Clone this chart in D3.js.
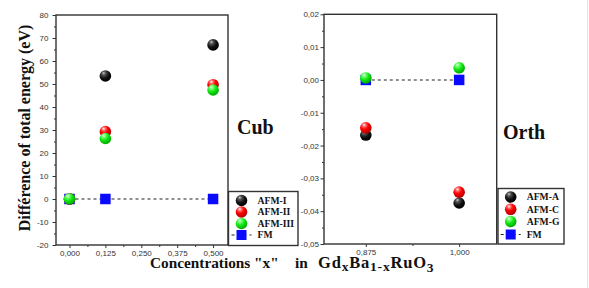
<!DOCTYPE html>
<html><head><meta charset="utf-8">
<script src="https://cdn.jsdelivr.net/npm/d3@7"></script>
<style>body{margin:0;background:#fff}svg{display:block}</style>
</head><body>
<svg id="c" width="589" height="288"></svg>
<script>
// ---- data ----
const cubX = [0, 0.125, 0.5];
const cubAFM1 = [0, 53.5, 67];
const cubAFM2 = [0, 29.3, 49.7];
const cubAFM3 = [0, 26.3, 47.4];
const cubFM = [0, 0, 0];
const cubNames = ["AFM-I", "AFM-II", "AFM-III", "FM"];
const cubXTicks = [0, 0.125, 0.25, 0.375, 0.5];
const cubYTicks = [-20, -10, 0, 10, 20, 30, 40, 50, 60, 70, 80];

const orthX = [0.875, 1.0];
const orthAFMA = [-0.0168, -0.0375];
const orthAFMC = [-0.0146, -0.0342];
const orthAFMG = [0.0006, 0.0037];
const orthFM = [0, 0];
const orthNames = ["AFM-A", "AFM-C", "AFM-G", "FM"];
const orthXTicks = [0.875, 1.0];
const orthYTicks = [-0.05, -0.04, -0.03, -0.02, -0.01, 0, 0.01, 0.02];

const svg = d3.select("#c");
const loc = d3.formatLocale({decimal: ",", thousands: ".", grouping: [3], currency: ["", ""], minus: "-"});

// gradients
const defs = svg.append("defs");
function grad(id, stops) {
  const g = defs.append("radialGradient").attr("id", id)
    .attr("cx", "38%").attr("cy", "30%").attr("r", "70%").attr("fx", "35%").attr("fy", "25%");
  stops.forEach(s => g.append("stop").attr("offset", s[0]).attr("stop-color", s[1]));
}
grad("gBlack", [["0%", "#d0d0d0"], ["22%", "#555"], ["60%", "#111"], ["100%", "#000"]]);
grad("gRed", [["0%", "#ffffff"], ["20%", "#ff7070"], ["50%", "#ff0000"], ["100%", "#b00000"]]);
grad("gGreen", [["0%", "#f0fff0"], ["22%", "#70ff70"], ["55%", "#11e611"], ["100%", "#00a800"]]);
const fills = ["url(#gBlack)", "url(#gRed)", "url(#gGreen)"];

const R = 5.8, SQ = 10.5;
const frameColor = "#333";

function panel(o) {
  const x = d3.scaleLinear().domain(o.xDomain).range([o.x0, o.x1]);
  const y = d3.scaleLinear().domain(o.yDomain).range([o.y1, o.y0]);
  const g = svg.append("g");

  // axes
  const yAx = g.append("g").attr("transform", `translate(${o.x0},0)`)
    .call(d3.axisLeft(y).tickValues(o.yTicks).tickSize(3.5).tickPadding(o.yPad).tickFormat(o.yFmt));
  const yMin = g.append("g").attr("transform", `translate(${o.x0},0)`)
    .call(d3.axisLeft(y).tickValues(o.yMinor).tickSize(2).tickFormat(""));
  const xAx = g.append("g").attr("transform", `translate(0,${o.y1})`)
    .call(d3.axisBottom(x).tickValues(o.xTicks).tickSize(3).tickPadding(2.6).tickFormat(o.xFmt));
  const xMin = g.append("g").attr("transform", `translate(0,${o.y1})`)
    .call(d3.axisBottom(x).tickValues(o.xMinor).tickSize(2).tickFormat(""));
  [yAx, yMin, xAx, xMin].forEach(a => {
    a.select(".domain").remove();
    a.selectAll("line").attr("stroke", frameColor).attr("stroke-width", 1);
    a.selectAll("text").attr("font-family", "'Liberation Sans', Arial, sans-serif")
      .attr("font-size", 8).attr("fill", "#333");
  });

  // frame
  g.append("rect").attr("x", o.x0).attr("y", o.y0).attr("width", o.x1 - o.x0).attr("height", o.y1 - o.y0)
    .attr("fill", "none").attr("stroke", frameColor).attr("stroke-width", 1.4);

  // FM dashed line + squares
  const line = d3.line().x(d => x(d[0])).y(d => y(d[1]));
  const fm = o.xs.map((v, i) => [v, o.fm[i]]);
  g.append("path").attr("d", line(fm)).attr("fill", "none").attr("stroke", "#222")
    .attr("stroke-width", 1.1).attr("stroke-dasharray", "3,3");
  g.selectAll(".sq").data(fm).join("rect")
    .attr("x", d => x(d[0]) - SQ / 2).attr("y", d => y(d[1]) - SQ / 2)
    .attr("width", SQ).attr("height", SQ).attr("fill", "#0a0aff");

  // spheres
  o.series.forEach((s, k) => {
    g.selectAll(".s" + k).data(o.xs.map((v, i) => [v, s[i]])).join("circle")
      .attr("cx", d => x(d[0])).attr("cy", d => y(d[1])).attr("r", R).attr("fill", fills[k]);
  });

  // legend
  const L = o.legend;
  g.append("rect").attr("x", L.x0).attr("y", L.y0).attr("width", L.x1 - L.x0).attr("height", L.y1 - L.y0)
    .attr("fill", "#fff").attr("stroke", frameColor).attr("stroke-width", 1.4);
  o.names.forEach((nm, i) => {
    const cy = L.rows[i];
    if (i < 3) {
      g.append("circle").attr("cx", L.mx).attr("cy", cy).attr("r", R).attr("fill", fills[i]);
    } else {
      g.append("line").attr("x1", L.mx - 10).attr("x2", L.mx + 10).attr("y1", cy).attr("y2", cy)
        .attr("stroke", "#222").attr("stroke-width", 1.1).attr("stroke-dasharray", "3,3");
      g.append("rect").attr("x", L.mx - 5).attr("y", cy - 5).attr("width", 10).attr("height", 10).attr("fill", "#0a0aff");
    }
    g.append("text").attr("x", L.tx).attr("y", cy + 3.4).text(nm)
      .attr("font-family", "'Liberation Serif', 'Times New Roman', serif").attr("font-weight", "bold")
      .attr("font-size", 9.7).attr("fill", "#111");
  });

  // panel label
  svg.append("text").attr("x", o.label.x).attr("y", o.label.y).text(o.label.t)
    .attr("font-family", "'Liberation Serif', 'Times New Roman', serif").attr("font-weight", "bold")
    .attr("font-size", 20).attr("fill", "#111");
}

panel({
  xDomain: [-0.047, 0.552], yDomain: [-20, 80],
  x0: 56, x1: 228, y0: 15, y1: 245,
  xTicks: cubXTicks, xMinor: [0.0625, 0.1875, 0.3125, 0.4375],
  yTicks: cubYTicks, yMinor: d3.range(-15, 80, 10),
  xFmt: loc.format(".3f"), yFmt: loc.format("d"), yPad: 4,
  xs: cubX, series: [cubAFM1, cubAFM2, cubAFM3], fm: cubFM, names: cubNames,
  legend: {x0: 228.5, x1: 298, y0: 191.5, y1: 245.5, mx: 241.5, tx: 257.5, rows: [200.5, 212, 223.5, 235]},
  label: {x: 237, y: 134, t: "Cub"}
});

panel({
  xDomain: [0.819, 1.0503], yDomain: [-0.05, 0.02],
  x0: 324, x1: 496.7, y0: 14.3, y1: 244,
  xTicks: orthXTicks, xMinor: [0.9375],
  yTicks: orthYTicks, yMinor: d3.range(-0.045, 0.02, 0.01),
  xFmt: loc.format(".3f"), yFmt: loc.format(".2f"), yPad: 1.5,
  xs: orthX, series: [orthAFMA, orthAFMC, orthAFMG], fm: orthFM, names: orthNames,
  legend: {x0: 498, x1: 564, y0: 188.5, y1: 244, mx: 510.7, tx: 526.7, rows: [197, 209.3, 221.5, 234.5]},
  label: {x: 503, y: 138.5, t: "Orth"}
});

// axis titles
const serif = "'Liberation Serif', 'Times New Roman', serif";
svg.append("text").attr("transform", "translate(30,128) rotate(-90)").attr("text-anchor", "middle")
  .text("Différence of total energy (eV)")
  .attr("font-family", serif).attr("font-weight", "bold").attr("font-size", 16).attr("fill", "#111");

const xt = svg.append("g").attr("font-family", serif).attr("font-weight", "bold").attr("fill", "#111");
xt.append("text").attr("x", 150).attr("y", 268).attr("font-size", 15.3).text('Concentrations "x"');
xt.append("text").attr("x", 295).attr("y", 268).attr("font-size", 15.3).text("in");
const f = xt.append("text").attr("x", 318).attr("y", 268).attr("font-size", 16.5).attr("letter-spacing", 0.8);
f.append("tspan").text("Gd");
f.append("tspan").attr("dy", 3).attr("font-size", 13.5).text("x");
f.append("tspan").attr("dy", -3).text("Ba");
f.append("tspan").attr("dy", 3).attr("font-size", 13.5).text("1-x");
f.append("tspan").attr("dy", -3).text("RuO");
f.append("tspan").attr("dy", 3.5).attr("font-size", 13.5).text("3");

// faint right border
svg.append("line").attr("x1", 587.5).attr("x2", 587.5).attr("y1", 0).attr("y2", 288)
  .attr("stroke", "#e2e2e2").attr("stroke-width", 1);
</script>
</body></html>
